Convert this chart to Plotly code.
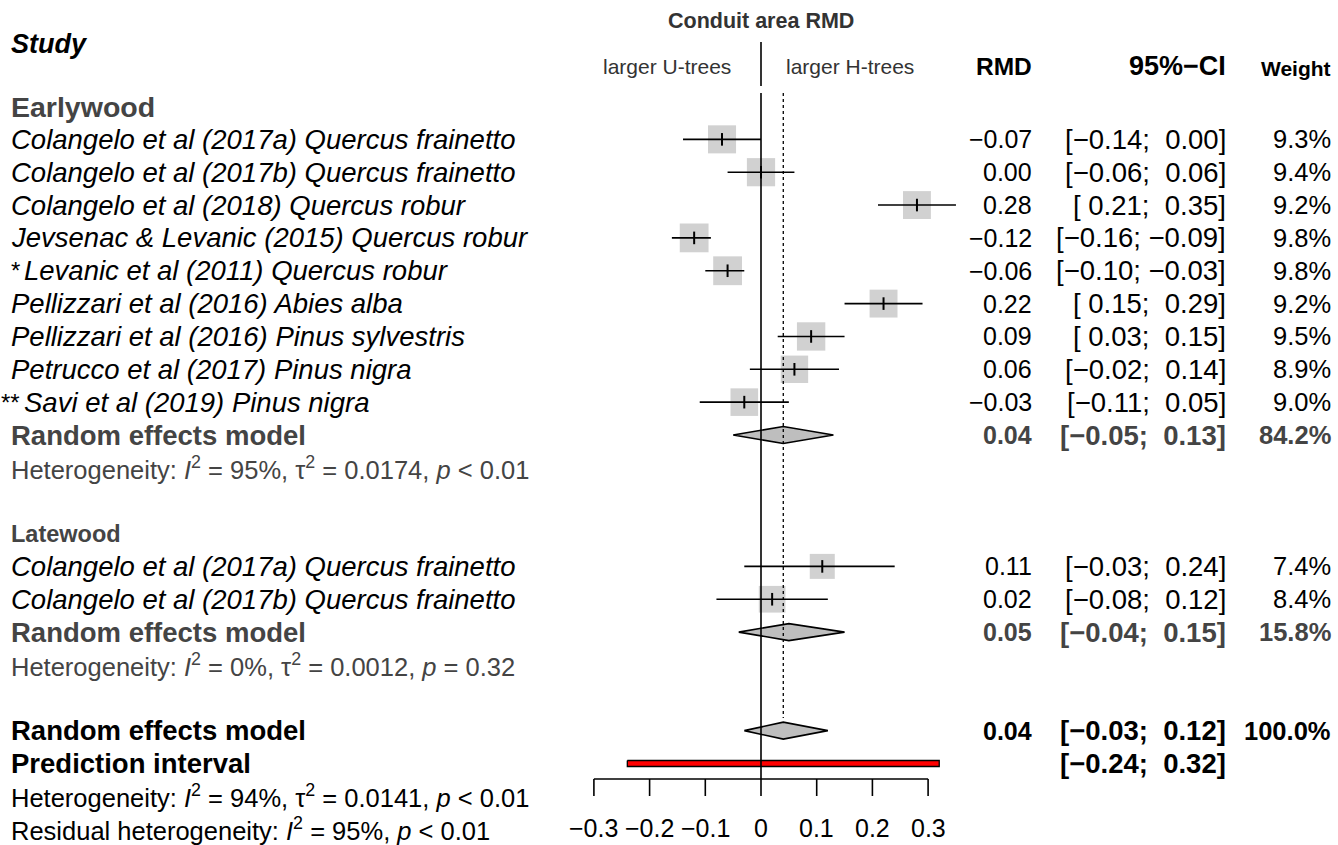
import math
import plotly.graph_objects as go

# ---------------- data ----------------
ew_names = [
    "Colangelo et al (2017a) Quercus frainetto",
    "Colangelo et al (2017b) Quercus frainetto",
    "Colangelo et al (2018) Quercus robur",
    "Jevsenac & Levanic (2015) Quercus robur",
    "Levanic et al (2011) Quercus robur",
    "Pellizzari et al (2016) Abies alba",
    "Pellizzari et al (2016) Pinus sylvestris",
    "Petrucco et al (2017) Pinus nigra",
    "Savi et al (2019) Pinus nigra",
]
ew_prefix = ["", "", "", "", "*", "", "", "", "**"]
ew_rmd = [-0.07, 0.00, 0.28, -0.12, -0.06, 0.22, 0.09, 0.06, -0.03]
ew_lo = [-0.14, -0.06, 0.21, -0.16, -0.10, 0.15, 0.03, -0.02, -0.11]
ew_hi = [0.00, 0.06, 0.35, -0.09, -0.03, 0.29, 0.15, 0.14, 0.05]
ew_w = [9.3, 9.4, 9.2, 9.8, 9.8, 9.2, 9.5, 8.9, 9.0]

lw_names = [
    "Colangelo et al (2017a) Quercus frainetto",
    "Colangelo et al (2017b) Quercus frainetto",
]
lw_rmd = [0.11, 0.02]
lw_lo = [-0.03, -0.08]
lw_hi = [0.24, 0.12]
lw_w = [7.4, 8.4]

ew_re = [0.04, -0.05, 0.13]
ew_re_w = 84.2
lw_re = [0.05, -0.04, 0.15]
lw_re_w = 15.8
all_re = [0.04, -0.03, 0.12]
all_re_w = 100.0
pred_int = [-0.24, 0.32]

ew_het = "Heterogeneity: <i>I</i><sup>2</sup> = 95%, τ<sup>2</sup> = 0.0174, <i>p</i> &lt; 0.01"
lw_het = "Heterogeneity: <i>I</i><sup>2</sup> = 0%, τ<sup>2</sup> = 0.0012, <i>p</i> = 0.32"
all_het = "Heterogeneity: <i>I</i><sup>2</sup> = 94%, τ<sup>2</sup> = 0.0141, <i>p</i> &lt; 0.01"
res_het = "Residual heterogeneity: <i>I</i><sup>2</sup> = 95%, <i>p</i> &lt; 0.01"

tick_vals = [-0.3, -0.2, -0.1, 0, 0.1, 0.2, 0.3]
tick_text = ["−0.3", "−0.2", "−0.1", "0", "0.1", "0.2", "0.3"]

# ---------------- layout helpers ----------------
W, H = 1338, 845
X0, SCALE = 761.0, 557.0          # pixel of zero, pixels per unit


def px(p):
    return (p - X0) / SCALE


ROW0, STEP = 106.5, 32.85


def row(i):
    return ROW0 + STEP * i


FONT = "Liberation Sans, Arial, Helvetica, sans-serif"
GREY = "#444444"
BOXC = "#bebebe"


def fmt(v):
    return f"{v:.2f}".replace("-", "−")


def fmt_ci(lo, hi):
    s = f"[{lo:5.2f}; {hi:5.2f}]".replace("-", "−")
    return s.replace(" ", "\u00a0")


fig = go.Figure()
ann = []


def text(x, y, s, size=24, color="#000", anchor="left", bold=False, italic=False):
    if italic:
        s = f"<i>{s}</i>"
    if bold:
        s = f"<b>{s}</b>"
    ann.append(dict(x=x, y=y, xref="x", yref="y", text=s, showarrow=False,
                    xanchor=anchor, yanchor="middle",
                    font=dict(family=FONT, size=size, color=color)))


# ---------------- rows ----------------
ew_rows = [row(i) for i in range(1, 10)]
ew_re_row = row(10)
lw_rows = [row(i) for i in (14, 15)]
lw_re_row = row(16)
all_re_row = row(19)
pi_row = row(20)

COL_RMD = px(1034)
COL_CI = px(1228)
COL_W = px(1333)
LEFT_PX = 9
LEFT = px(LEFT_PX)
STAR_END = px(22)
FS = 27.5      # left labels
FSH = 25.5     # heterogeneity
FSR = 25       # RMD column
FSW = 25.5     # weight column
FSC = 27.5     # CI column


def study_block(names, prefix, rmd, lo, hi, w, rows):
    xs, ys = [], []
    for l, h, r in zip(lo, hi, rows):
        xs += [l, h, None]
        ys += [r, r, None]
    fig.add_trace(go.Scatter(x=rmd, y=rows, mode="markers",
                             marker=dict(symbol="square", color=BOXC,
                                         size=[9.2 * math.sqrt(v) for v in w],
                                         line=dict(width=0)),
                             hoverinfo="skip"))
    fig.add_trace(go.Scatter(x=xs, y=ys, mode="lines",
                             line=dict(color="black", width=1.6),
                             hoverinfo="skip"))
    fig.add_trace(go.Scatter(x=rmd, y=rows, mode="markers",
                             marker=dict(symbol="line-ns", size=9,
                                         line=dict(color="black", width=2)),
                             hoverinfo="skip"))
    for i, r in enumerate(rows):
        if prefix[i]:
            text(STAR_END, r, prefix[i], size=24, anchor="right")
            text(STAR_END, r, names[i], size=FS, italic=True)
        else:
            text(LEFT, r, names[i], size=FS, italic=True)
        text(COL_RMD, r, fmt(rmd[i]), size=FSR, anchor="right")
        text(COL_CI, r, fmt_ci(lo[i], hi[i]), size=FSC, anchor="right")
        text(COL_W, r, f"{w[i]:.1f}%", size=FSW, anchor="right")


def diamond(est, lo, hi, r, hh=8.5):
    fig.add_trace(go.Scatter(x=[lo, est, hi, est, lo], y=[r, r - hh, r, r + hh, r],
                             mode="lines", fill="toself", fillcolor=BOXC,
                             line=dict(color="black", width=1.6),
                             hoverinfo="skip"))


def summary_cols(vals, w, r, color):
    text(COL_RMD, r, fmt(vals[0]), size=FSR, anchor="right", bold=True, color=color)
    text(COL_CI, r, fmt_ci(vals[1], vals[2]), size=FSC, anchor="right", bold=True, color=color)
    text(COL_W, r, f"{w:.1f}%", size=FSW, anchor="right", bold=True, color=color)


# ---------------- reference lines ----------------
fig.add_shape(type="line", xref="x", yref="y", x0=0, x1=0, y0=93, y1=779,
              line=dict(color="black", width=1.6))
fig.add_shape(type="line", xref="x", yref="y", x0=0, x1=0, y0=42, y1=86,
              line=dict(color="black", width=1.6))
fig.add_shape(type="line", xref="x", yref="y", x0=all_re[0], x1=all_re[0], y0=93, y1=718,
              line=dict(color="black", width=1.3, dash="dot"))

# ---------------- Earlywood ----------------
text(LEFT, row(0), "Earlywood", size=28.5, color=GREY, bold=True)
study_block(ew_names, ew_prefix, ew_rmd, ew_lo, ew_hi, ew_w, ew_rows)
diamond(*ew_re, ew_re_row)
text(LEFT, ew_re_row, "Random effects model", size=FS, color=GREY, bold=True)
summary_cols(ew_re, ew_re_w, ew_re_row, GREY)
text(LEFT, row(11), ew_het, size=FSH, color=GREY)

# ---------------- Latewood ----------------
text(LEFT, row(13), "Latewood", size=23.5, color=GREY, bold=True)
study_block(lw_names, ["", ""], lw_rmd, lw_lo, lw_hi, lw_w, lw_rows)
diamond(*lw_re, lw_re_row)
text(LEFT, lw_re_row, "Random effects model", size=FS, color=GREY, bold=True)
summary_cols(lw_re, lw_re_w, lw_re_row, GREY)
text(LEFT, row(17), lw_het, size=FSH, color=GREY)

# ---------------- Overall ----------------
diamond(*all_re, all_re_row)
text(LEFT, all_re_row, "Random effects model", size=FS, bold=True)
summary_cols(all_re, all_re_w, all_re_row, "#000")
fig.add_trace(go.Scatter(x=[pred_int[0], pred_int[1], pred_int[1], pred_int[0], pred_int[0]],
                         y=[pi_row - 3, pi_row - 3, pi_row + 3, pi_row + 3, pi_row - 3],
                         mode="lines", fill="toself", fillcolor="red",
                         line=dict(color="black", width=1.3), hoverinfo="skip"))
text(LEFT, pi_row, "Prediction interval", size=FS, bold=True)
text(COL_CI, pi_row, fmt_ci(*pred_int), size=FSC, anchor="right", bold=True)
text(LEFT, row(21), all_het, size=FSH)
text(LEFT, row(22), res_het, size=FSH)

# ---------------- axis ----------------
AXY, TKY = 779, 796
fig.add_trace(go.Scatter(x=[tick_vals[0], tick_vals[-1]], y=[AXY, AXY], mode="lines",
                         line=dict(color="black", width=1.6), hoverinfo="skip"))
tx, ty = [], []
for v in tick_vals:
    tx += [v, v, None]
    ty += [AXY, TKY, None]
fig.add_trace(go.Scatter(x=tx, y=ty, mode="lines",
                         line=dict(color="black", width=1.6), hoverinfo="skip"))
for v, t in zip(tick_vals, tick_text):
    text(v, 828, t, size=25, anchor="center")

# ---------------- headers ----------------
HDR = 66
text(0, 21, "Conduit area RMD", size=21.5, color="#333", anchor="center", bold=True)
text(LEFT, 44, "Study", size=27, bold=True, italic=True)
text(px(667), HDR, "larger U-trees", size=21, color="#333", anchor="center")
text(px(850), HDR, "larger H-trees", size=21, color="#333", anchor="center")
text(COL_RMD, HDR, "RMD", size=24.5, bold=True, anchor="right")
text(COL_CI, HDR, "95%−CI", size=27, bold=True, anchor="right")
text(COL_W, HDR + 2, "Weight", size=21, bold=True, anchor="right")

fig.update_layout(
    width=W, height=H, margin=dict(l=0, r=0, t=0, b=0),
    paper_bgcolor="white", plot_bgcolor="white", showlegend=False,
    xaxis=dict(range=[px(0), px(W)], visible=False, fixedrange=True),
    yaxis=dict(range=[H, 0], visible=False, fixedrange=True),
    annotations=ann,
)
fig.write_html("out.html", config={"displayModeBar": False},
               post_script="document.body.style.margin='0';document.body.style.overflow='hidden';")
